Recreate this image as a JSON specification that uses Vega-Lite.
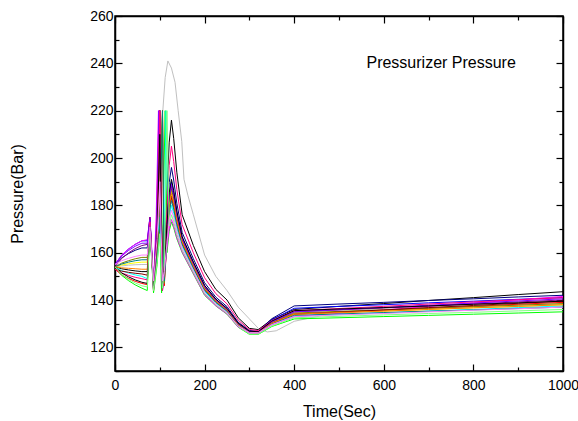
{
"$schema":"https://vega.github.io/schema/vega-lite/v6.json",
"width":448,"height":355,
"autosize":"none",
"padding":{"left":115,"top":16,"right":15,"bottom":50},
"config":{"view":{"stroke":"black","strokeWidth":1.5},"font":"Liberation Sans",
"axis":{"grid":false,"domainColor":"black","domainWidth":1.5,"tickColor":"black","tickWidth":1.2,"labelColor":"black","titleColor":"black","labelFontSize":14,"titleFontSize":16,"titleFontWeight":"normal","labelFont":"Liberation Sans","titleFont":"Liberation Sans","labelFlush":false,"labelOverlap":false,"format":"d"}},
"layer":[
{"data":{"values":[
{"s":"s17","t":0,"v":154},{"s":"s17","t":15,"v":154.4},{"s":"s17","t":30,"v":154.7},{"s":"s17","t":45,"v":154.9},{"s":"s17","t":60,"v":155},{"s":"s17","t":72,"v":155},{"s":"s17","t":78,"v":168},{"s":"s17","t":86,"v":150},{"s":"s17","t":94,"v":165},{"s":"s17","t":100,"v":200},{"s":"s17","t":106,"v":218},{"s":"s17","t":112,"v":234},{"s":"s17","t":118,"v":241},{"s":"s17","t":126,"v":238},{"s":"s17","t":134,"v":232},{"s":"s17","t":141,"v":220},{"s":"s17","t":149,"v":207},{"s":"s17","t":154,"v":191},{"s":"s17","t":163,"v":184},{"s":"s17","t":175,"v":176},{"s":"s17","t":200,"v":159},{"s":"s17","t":225,"v":150},{"s":"s17","t":250,"v":144},{"s":"s17","t":275,"v":137},{"s":"s17","t":300,"v":132},{"s":"s17","t":320,"v":128},{"s":"s17","t":340,"v":126.5},{"s":"s17","t":360,"v":127},{"s":"s17","t":400,"v":131},{"s":"s17","t":450,"v":133},{"s":"s17","t":500,"v":135},{"s":"s17","t":600,"v":136.5},{"s":"s17","t":700,"v":137},{"s":"s17","t":800,"v":137.5},{"s":"s17","t":900,"v":138},{"s":"s17","t":1000,"v":138},
{"s":"s01","t":0,"v":154},{"s":"s01","t":15,"v":153.2},{"s":"s01","t":30,"v":152.7},{"s":"s01","t":45,"v":152.3},{"s":"s01","t":60,"v":152},{"s":"s01","t":72,"v":152},{"s":"s01","t":78,"v":170},{"s":"s01","t":86,"v":146},{"s":"s01","t":94,"v":174},{"s":"s01","t":100,"v":220},{"s":"s01","t":106,"v":145},{"s":"s01","t":110,"v":152},{"s":"s01","t":116,"v":185},{"s":"s01","t":121,"v":206.7},{"s":"s01","t":126,"v":216},{"s":"s01","t":131,"v":208.3},{"s":"s01","t":138,"v":194},{"s":"s01","t":150,"v":176},{"s":"s01","t":175,"v":163},{"s":"s01","t":200,"v":152},{"s":"s01","t":225,"v":144.5},{"s":"s01","t":250,"v":140},{"s":"s01","t":275,"v":132.5},{"s":"s01","t":300,"v":128},{"s":"s01","t":320,"v":127.5},{"s":"s01","t":350,"v":131.8},{"s":"s01","t":400,"v":136},{"s":"s01","t":500,"v":137.3},{"s":"s01","t":600,"v":138.5},{"s":"s01","t":700,"v":139.8},{"s":"s01","t":800,"v":141},{"s":"s01","t":900,"v":142.3},{"s":"s01","t":1000,"v":143.5},
{"s":"s02","t":0,"v":153},{"s":"s02","t":15,"v":150.6},{"s":"s02","t":30,"v":149.1},{"s":"s02","t":45,"v":147.9},{"s":"s02","t":60,"v":147},{"s":"s02","t":72,"v":146.5},{"s":"s02","t":78,"v":174},{"s":"s02","t":86,"v":144},{"s":"s02","t":94,"v":160},{"s":"s02","t":100,"v":175},{"s":"s02","t":106,"v":220},{"s":"s02","t":110,"v":146},{"s":"s02","t":116,"v":165},{"s":"s02","t":121,"v":177.6},{"s":"s02","t":126,"v":183},{"s":"s02","t":131,"v":179.3},{"s":"s02","t":138,"v":172.4},{"s":"s02","t":150,"v":163.7},{"s":"s02","t":175,"v":153.8},{"s":"s02","t":200,"v":144.3},{"s":"s02","t":225,"v":139.1},{"s":"s02","t":250,"v":135.4},{"s":"s02","t":275,"v":129.4},{"s":"s02","t":300,"v":126.5},{"s":"s02","t":320,"v":126.3},{"s":"s02","t":350,"v":130.2},{"s":"s02","t":400,"v":134},{"s":"s02","t":500,"v":134.8},{"s":"s02","t":600,"v":135.7},{"s":"s02","t":700,"v":136.5},{"s":"s02","t":800,"v":137.3},{"s":"s02","t":900,"v":138.2},{"s":"s02","t":1000,"v":139},
{"s":"s03","t":0,"v":154},{"s":"s03","t":15,"v":150.4},{"s":"s03","t":30,"v":148.2},{"s":"s03","t":45,"v":146.4},{"s":"s03","t":60,"v":145},{"s":"s03","t":72,"v":144},{"s":"s03","t":78,"v":170},{"s":"s03","t":86,"v":143},{"s":"s03","t":94,"v":155},{"s":"s03","t":100,"v":170},{"s":"s03","t":104,"v":143},{"s":"s03","t":112,"v":220},{"s":"s03","t":116,"v":160},{"s":"s03","t":121,"v":169.1},{"s":"s03","t":126,"v":173},{"s":"s03","t":131,"v":170.5},{"s":"s03","t":138,"v":165.9},{"s":"s03","t":150,"v":160},{"s":"s03","t":175,"v":151},{"s":"s03","t":200,"v":142},{"s":"s03","t":225,"v":137.5},{"s":"s03","t":250,"v":134},{"s":"s03","t":275,"v":128.5},{"s":"s03","t":300,"v":125.5},{"s":"s03","t":320,"v":125.5},{"s":"s03","t":350,"v":128.8},{"s":"s03","t":400,"v":132},{"s":"s03","t":500,"v":132.5},{"s":"s03","t":600,"v":133},{"s":"s03","t":700,"v":133.5},{"s":"s03","t":800,"v":134},{"s":"s03","t":900,"v":134.5},{"s":"s03","t":1000,"v":135},
{"s":"s04","t":0,"v":155},{"s":"s04","t":15,"v":159},{"s":"s04","t":30,"v":161.5},{"s":"s04","t":45,"v":163.5},{"s":"s04","t":60,"v":165},{"s":"s04","t":72,"v":165},{"s":"s04","t":78,"v":175},{"s":"s04","t":86,"v":147},{"s":"s04","t":94,"v":175},{"s":"s04","t":100,"v":220},{"s":"s04","t":106,"v":147},{"s":"s04","t":110,"v":155},{"s":"s04","t":116,"v":172},{"s":"s04","t":121,"v":184.6},{"s":"s04","t":126,"v":190},{"s":"s04","t":131,"v":185.5},{"s":"s04","t":138,"v":177},{"s":"s04","t":150,"v":166.4},{"s":"s04","t":175,"v":155.8},{"s":"s04","t":200,"v":146},{"s":"s04","t":225,"v":140.3},{"s":"s04","t":250,"v":136.4},{"s":"s04","t":275,"v":130.1},{"s":"s04","t":300,"v":126.8},{"s":"s04","t":320,"v":126.6},{"s":"s04","t":350,"v":131.6},{"s":"s04","t":400,"v":136.5},{"s":"s04","t":500,"v":137.3},{"s":"s04","t":600,"v":138},{"s":"s04","t":700,"v":138.8},{"s":"s04","t":800,"v":139.5},{"s":"s04","t":900,"v":140.3},{"s":"s04","t":1000,"v":141},
{"s":"s05","t":0,"v":154},{"s":"s05","t":15,"v":152.4},{"s":"s05","t":30,"v":151.4},{"s":"s05","t":45,"v":150.6},{"s":"s05","t":60,"v":150},{"s":"s05","t":72,"v":149},{"s":"s05","t":78,"v":172},{"s":"s05","t":86,"v":145},{"s":"s05","t":94,"v":165},{"s":"s05","t":100,"v":175},{"s":"s05","t":106,"v":146},{"s":"s05","t":110,"v":165},{"s":"s05","t":114,"v":220},{"s":"s05","t":118,"v":170},{"s":"s05","t":121,"v":174.6},{"s":"s05","t":126,"v":180},{"s":"s05","t":131,"v":176.6},{"s":"s05","t":138,"v":170.4},{"s":"s05","t":150,"v":162.6},{"s":"s05","t":175,"v":152.9},{"s":"s05","t":200,"v":143.6},{"s":"s05","t":225,"v":138.6},{"s":"s05","t":250,"v":135},{"s":"s05","t":275,"v":129.1},{"s":"s05","t":300,"v":126.3},{"s":"s05","t":320,"v":126.2},{"s":"s05","t":350,"v":129.6},{"s":"s05","t":400,"v":133},{"s":"s05","t":500,"v":133.8},{"s":"s05","t":600,"v":134.5},{"s":"s05","t":700,"v":135.3},{"s":"s05","t":800,"v":136},{"s":"s05","t":900,"v":136.8},{"s":"s05","t":1000,"v":137.5},
{"s":"s06","t":0,"v":155},{"s":"s06","t":15,"v":159},{"s":"s06","t":30,"v":161.5},{"s":"s06","t":45,"v":163.5},{"s":"s06","t":60,"v":165},{"s":"s06","t":72,"v":165.5},{"s":"s06","t":78,"v":175},{"s":"s06","t":86,"v":146},{"s":"s06","t":92,"v":176},{"s":"s06","t":97,"v":220},{"s":"s06","t":106,"v":146},{"s":"s06","t":110,"v":150},{"s":"s06","t":116,"v":162},{"s":"s06","t":121,"v":170.4},{"s":"s06","t":126,"v":174},{"s":"s06","t":131,"v":171.4},{"s":"s06","t":138,"v":166.5},{"s":"s06","t":150,"v":160.3},{"s":"s06","t":175,"v":151.2},{"s":"s06","t":200,"v":142.2},{"s":"s06","t":225,"v":137.6},{"s":"s06","t":250,"v":134.1},{"s":"s06","t":275,"v":128.6},{"s":"s06","t":300,"v":126},{"s":"s06","t":320,"v":126},{"s":"s06","t":350,"v":129.5},{"s":"s06","t":400,"v":133},{"s":"s06","t":500,"v":134.4},{"s":"s06","t":600,"v":135.8},{"s":"s06","t":700,"v":137.3},{"s":"s06","t":800,"v":138.7},{"s":"s06","t":900,"v":140.1},{"s":"s06","t":1000,"v":141.5},
{"s":"s07","t":0,"v":154},{"s":"s07","t":15,"v":154.8},{"s":"s07","t":30,"v":155.3},{"s":"s07","t":45,"v":155.7},{"s":"s07","t":60,"v":156},{"s":"s07","t":72,"v":156},{"s":"s07","t":78,"v":170},{"s":"s07","t":86,"v":148},{"s":"s07","t":94,"v":168},{"s":"s07","t":100,"v":200},{"s":"s07","t":106,"v":150},{"s":"s07","t":110,"v":155},{"s":"s07","t":116,"v":170},{"s":"s07","t":121,"v":181.2},{"s":"s07","t":126,"v":186},{"s":"s07","t":131,"v":181.9},{"s":"s07","t":138,"v":174.3},{"s":"s07","t":150,"v":164.8},{"s":"s07","t":175,"v":154.6},{"s":"s07","t":200,"v":145},{"s":"s07","t":225,"v":139.6},{"s":"s07","t":250,"v":135.8},{"s":"s07","t":275,"v":129.7},{"s":"s07","t":300,"v":126.6},{"s":"s07","t":320,"v":126.5},{"s":"s07","t":350,"v":130.3},{"s":"s07","t":400,"v":134},{"s":"s07","t":500,"v":134.7},{"s":"s07","t":600,"v":135.3},{"s":"s07","t":700,"v":136},{"s":"s07","t":800,"v":136.7},{"s":"s07","t":900,"v":137.3},{"s":"s07","t":1000,"v":138},
{"s":"s08","t":0,"v":154},{"s":"s08","t":15,"v":155.6},{"s":"s08","t":30,"v":156.6},{"s":"s08","t":45,"v":157.4},{"s":"s08","t":60,"v":158},{"s":"s08","t":72,"v":158},{"s":"s08","t":78,"v":172},{"s":"s08","t":86,"v":146},{"s":"s08","t":94,"v":162},{"s":"s08","t":100,"v":172},{"s":"s08","t":106,"v":220},{"s":"s08","t":110,"v":147},{"s":"s08","t":116,"v":167},{"s":"s08","t":121,"v":181},{"s":"s08","t":126,"v":187},{"s":"s08","t":131,"v":182.8},{"s":"s08","t":138,"v":175.1},{"s":"s08","t":150,"v":165.3},{"s":"s08","t":175,"v":155},{"s":"s08","t":200,"v":145.3},{"s":"s08","t":225,"v":139.8},{"s":"s08","t":250,"v":136},{"s":"s08","t":275,"v":129.8},{"s":"s08","t":300,"v":126.7},{"s":"s08","t":320,"v":126.5},{"s":"s08","t":350,"v":130.5},{"s":"s08","t":400,"v":134.5},{"s":"s08","t":500,"v":135.2},{"s":"s08","t":600,"v":135.8},{"s":"s08","t":700,"v":136.5},{"s":"s08","t":800,"v":137.2},{"s":"s08","t":900,"v":137.8},{"s":"s08","t":1000,"v":138.5},
{"s":"s09","t":0,"v":155},{"s":"s09","t":15,"v":157.8},{"s":"s09","t":30,"v":159.6},{"s":"s09","t":45,"v":161},{"s":"s09","t":60,"v":162},{"s":"s09","t":72,"v":162},{"s":"s09","t":78,"v":174},{"s":"s09","t":86,"v":145},{"s":"s09","t":94,"v":173},{"s":"s09","t":100,"v":220},{"s":"s09","t":106,"v":144},{"s":"s09","t":110,"v":152},{"s":"s09","t":116,"v":175},{"s":"s09","t":121,"v":189.7},{"s":"s09","t":126,"v":196},{"s":"s09","t":131,"v":190.7},{"s":"s09","t":138,"v":180.9},{"s":"s09","t":150,"v":168.5},{"s":"s09","t":175,"v":157.4},{"s":"s09","t":200,"v":147.3},{"s":"s09","t":225,"v":141.2},{"s":"s09","t":250,"v":137.2},{"s":"s09","t":275,"v":130.6},{"s":"s09","t":300,"v":127.1},{"s":"s09","t":320,"v":126.8},{"s":"s09","t":350,"v":132.1},{"s":"s09","t":400,"v":137.5},{"s":"s09","t":500,"v":138.3},{"s":"s09","t":600,"v":139},{"s":"s09","t":700,"v":139.8},{"s":"s09","t":800,"v":140.5},{"s":"s09","t":900,"v":141.3},{"s":"s09","t":1000,"v":142},
{"s":"s10","t":0,"v":154},{"s":"s10","t":15,"v":157.6},{"s":"s10","t":30,"v":159.9},{"s":"s10","t":45,"v":161.7},{"s":"s10","t":60,"v":163},{"s":"s10","t":72,"v":163.5},{"s":"s10","t":78,"v":175},{"s":"s10","t":86,"v":144},{"s":"s10","t":94,"v":175},{"s":"s10","t":100,"v":220},{"s":"s10","t":106,"v":146},{"s":"s10","t":110,"v":152},{"s":"s10","t":116,"v":170},{"s":"s10","t":121,"v":182.6},{"s":"s10","t":126,"v":188},{"s":"s10","t":131,"v":183.7},{"s":"s10","t":138,"v":175.7},{"s":"s10","t":150,"v":165.6},{"s":"s10","t":175,"v":155.2},{"s":"s10","t":200,"v":145.5},{"s":"s10","t":225,"v":140},{"s":"s10","t":250,"v":136.1},{"s":"s10","t":275,"v":129.9},{"s":"s10","t":300,"v":126.7},{"s":"s10","t":320,"v":126.5},{"s":"s10","t":350,"v":130.8},{"s":"s10","t":400,"v":135},{"s":"s10","t":500,"v":135.8},{"s":"s10","t":600,"v":136.7},{"s":"s10","t":700,"v":137.5},{"s":"s10","t":800,"v":138.3},{"s":"s10","t":900,"v":139.2},{"s":"s10","t":1000,"v":140},
{"s":"s11","t":0,"v":153},{"s":"s11","t":15,"v":152.2},{"s":"s11","t":30,"v":151.7},{"s":"s11","t":45,"v":151.3},{"s":"s11","t":60,"v":151},{"s":"s11","t":72,"v":150.5},{"s":"s11","t":78,"v":170},{"s":"s11","t":86,"v":147},{"s":"s11","t":94,"v":165},{"s":"s11","t":100,"v":205},{"s":"s11","t":106,"v":148},{"s":"s11","t":110,"v":152},{"s":"s11","t":116,"v":168},{"s":"s11","t":121,"v":179.2},{"s":"s11","t":126,"v":184},{"s":"s11","t":131,"v":180.2},{"s":"s11","t":138,"v":173.1},{"s":"s11","t":150,"v":164.2},{"s":"s11","t":175,"v":154.1},{"s":"s11","t":200,"v":144.6},{"s":"s11","t":225,"v":139.3},{"s":"s11","t":250,"v":135.6},{"s":"s11","t":275,"v":129.5},{"s":"s11","t":300,"v":126.5},{"s":"s11","t":320,"v":126.4},{"s":"s11","t":350,"v":130.2},{"s":"s11","t":400,"v":134},{"s":"s11","t":500,"v":134.9},{"s":"s11","t":600,"v":135.8},{"s":"s11","t":700,"v":136.8},{"s":"s11","t":800,"v":137.7},{"s":"s11","t":900,"v":138.6},{"s":"s11","t":1000,"v":139.5},
{"s":"s12","t":0,"v":154},{"s":"s12","t":15,"v":155.2},{"s":"s12","t":30,"v":156},{"s":"s12","t":45,"v":156.6},{"s":"s12","t":60,"v":157},{"s":"s12","t":72,"v":157},{"s":"s12","t":78,"v":168},{"s":"s12","t":86,"v":149},{"s":"s12","t":94,"v":158},{"s":"s12","t":100,"v":170},{"s":"s12","t":106,"v":220},{"s":"s12","t":110,"v":148},{"s":"s12","t":116,"v":165},{"s":"s12","t":121,"v":176.9},{"s":"s12","t":126,"v":182},{"s":"s12","t":131,"v":178.4},{"s":"s12","t":138,"v":171.8},{"s":"s12","t":150,"v":163.4},{"s":"s12","t":175,"v":153.5},{"s":"s12","t":200,"v":144.1},{"s":"s12","t":225,"v":139},{"s":"s12","t":250,"v":135.3},{"s":"s12","t":275,"v":129.3},{"s":"s12","t":300,"v":126.4},{"s":"s12","t":320,"v":126.3},{"s":"s12","t":350,"v":129.9},{"s":"s12","t":400,"v":133.5},{"s":"s12","t":500,"v":134.1},{"s":"s12","t":600,"v":134.7},{"s":"s12","t":700,"v":135.3},{"s":"s12","t":800,"v":135.8},{"s":"s12","t":900,"v":136.4},{"s":"s12","t":1000,"v":137},
{"s":"s13","t":0,"v":154},{"s":"s13","t":15,"v":153.6},{"s":"s13","t":30,"v":153.4},{"s":"s13","t":45,"v":153.2},{"s":"s13","t":60,"v":153},{"s":"s13","t":72,"v":153},{"s":"s13","t":78,"v":172},{"s":"s13","t":86,"v":146},{"s":"s13","t":94,"v":170},{"s":"s13","t":100,"v":220},{"s":"s13","t":106,"v":147},{"s":"s13","t":110,"v":153},{"s":"s13","t":116,"v":169},{"s":"s13","t":121,"v":180.2},{"s":"s13","t":126,"v":185},{"s":"s13","t":131,"v":181},{"s":"s13","t":138,"v":173.7},{"s":"s13","t":150,"v":164.5},{"s":"s13","t":175,"v":154.4},{"s":"s13","t":200,"v":144.8},{"s":"s13","t":225,"v":139.5},{"s":"s13","t":250,"v":135.7},{"s":"s13","t":275,"v":129.6},{"s":"s13","t":300,"v":126.6},{"s":"s13","t":320,"v":126.4},{"s":"s13","t":350,"v":130.2},{"s":"s13","t":400,"v":134},{"s":"s13","t":500,"v":134.7},{"s":"s13","t":600,"v":135.3},{"s":"s13","t":700,"v":136},{"s":"s13","t":800,"v":136.7},{"s":"s13","t":900,"v":137.3},{"s":"s13","t":1000,"v":138},
{"s":"s14","t":0,"v":155},{"s":"s14","t":15,"v":158.6},{"s":"s14","t":30,"v":160.9},{"s":"s14","t":45,"v":162.7},{"s":"s14","t":60,"v":164},{"s":"s14","t":72,"v":164},{"s":"s14","t":78,"v":174},{"s":"s14","t":86,"v":145},{"s":"s14","t":93,"v":174},{"s":"s14","t":98,"v":220},{"s":"s14","t":106,"v":145},{"s":"s14","t":110,"v":153},{"s":"s14","t":116,"v":171},{"s":"s14","t":121,"v":183.6},{"s":"s14","t":126,"v":189},{"s":"s14","t":131,"v":184.6},{"s":"s14","t":138,"v":176.3},{"s":"s14","t":150,"v":165.9},{"s":"s14","t":175,"v":155.4},{"s":"s14","t":200,"v":145.7},{"s":"s14","t":225,"v":140.1},{"s":"s14","t":250,"v":136.2},{"s":"s14","t":275,"v":130},{"s":"s14","t":300,"v":126.7},{"s":"s14","t":320,"v":126.6},{"s":"s14","t":350,"v":130.8},{"s":"s14","t":400,"v":135},{"s":"s14","t":500,"v":135.9},{"s":"s14","t":600,"v":136.8},{"s":"s14","t":700,"v":137.8},{"s":"s14","t":800,"v":138.7},{"s":"s14","t":900,"v":139.6},{"s":"s14","t":1000,"v":140.5},
{"s":"s15","t":0,"v":153},{"s":"s15","t":15,"v":151.4},{"s":"s15","t":30,"v":150.4},{"s":"s15","t":45,"v":149.6},{"s":"s15","t":60,"v":149},{"s":"s15","t":72,"v":148.5},{"s":"s15","t":78,"v":173},{"s":"s15","t":86,"v":144},{"s":"s15","t":94,"v":172},{"s":"s15","t":100,"v":220},{"s":"s15","t":106,"v":144},{"s":"s15","t":110,"v":152},{"s":"s15","t":116,"v":178},{"s":"s15","t":121,"v":196.9},{"s":"s15","t":126,"v":205},{"s":"s15","t":131,"v":198.6},{"s":"s15","t":138,"v":186.7},{"s":"s15","t":150,"v":171.8},{"s":"s15","t":175,"v":159.9},{"s":"s15","t":200,"v":149.4},{"s":"s15","t":225,"v":142.7},{"s":"s15","t":250,"v":138.4},{"s":"s15","t":275,"v":131.5},{"s":"s15","t":300,"v":127.5},{"s":"s15","t":320,"v":127.1},{"s":"s15","t":350,"v":131.3},{"s":"s15","t":400,"v":135.5},{"s":"s15","t":500,"v":136.4},{"s":"s15","t":600,"v":137.3},{"s":"s15","t":700,"v":138.3},{"s":"s15","t":800,"v":139.2},{"s":"s15","t":900,"v":140.1},{"s":"s15","t":1000,"v":141},
{"s":"s16","t":0,"v":154},{"s":"s16","t":15,"v":151.4},{"s":"s16","t":30,"v":149.8},{"s":"s16","t":45,"v":148.5},{"s":"s16","t":60,"v":147.5},{"s":"s16","t":72,"v":147},{"s":"s16","t":78,"v":171},{"s":"s16","t":86,"v":146},{"s":"s16","t":94,"v":168},{"s":"s16","t":100,"v":210},{"s":"s16","t":106,"v":147},{"s":"s16","t":110,"v":153},{"s":"s16","t":116,"v":172},{"s":"s16","t":121,"v":185.3},{"s":"s16","t":126,"v":191},{"s":"s16","t":131,"v":186.3},{"s":"s16","t":138,"v":177.6},{"s":"s16","t":150,"v":166.7},{"s":"s16","t":175,"v":156},{"s":"s16","t":200,"v":146.2},{"s":"s16","t":225,"v":140.4},{"s":"s16","t":250,"v":136.5},{"s":"s16","t":275,"v":130.2},{"s":"s16","t":300,"v":126.8},{"s":"s16","t":320,"v":126.6},{"s":"s16","t":350,"v":131.1},{"s":"s16","t":400,"v":135.5},{"s":"s16","t":500,"v":136.2},{"s":"s16","t":600,"v":136.8},{"s":"s16","t":700,"v":137.5},{"s":"s16","t":800,"v":138.2},{"s":"s16","t":900,"v":138.8},{"s":"s16","t":1000,"v":139.5},
{"s":"s18","t":0,"v":154},{"s":"s18","t":15,"v":150.8},{"s":"s18","t":30,"v":148.8},{"s":"s18","t":45,"v":147.2},{"s":"s18","t":60,"v":146},{"s":"s18","t":72,"v":145.5},{"s":"s18","t":78,"v":169},{"s":"s18","t":86,"v":144},{"s":"s18","t":94,"v":156},{"s":"s18","t":100,"v":168},{"s":"s18","t":106,"v":145},{"s":"s18","t":110,"v":152},{"s":"s18","t":116,"v":220},{"s":"s18","t":121,"v":171.2},{"s":"s18","t":126,"v":176},{"s":"s18","t":131,"v":173.1},{"s":"s18","t":138,"v":167.8},{"s":"s18","t":150,"v":161.1},{"s":"s18","t":175,"v":151.8},{"s":"s18","t":200,"v":142.7},{"s":"s18","t":225,"v":138},{"s":"s18","t":250,"v":134.4},{"s":"s18","t":275,"v":128.8},{"s":"s18","t":300,"v":125.6},{"s":"s18","t":320,"v":125.6},{"s":"s18","t":350,"v":129},{"s":"s18","t":400,"v":132.5},{"s":"s18","t":500,"v":133.1},{"s":"s18","t":600,"v":133.7},{"s":"s18","t":700,"v":134.3},{"s":"s18","t":800,"v":134.8},{"s":"s18","t":900,"v":135.4},{"s":"s18","t":1000,"v":136},
{"s":"s19","t":0,"v":155},{"s":"s19","t":15,"v":156.6},{"s":"s19","t":30,"v":157.6},{"s":"s19","t":45,"v":158.4},{"s":"s19","t":60,"v":159},{"s":"s19","t":72,"v":159},{"s":"s19","t":78,"v":171},{"s":"s19","t":86,"v":148},{"s":"s19","t":94,"v":166},{"s":"s19","t":100,"v":190},{"s":"s19","t":106,"v":148},{"s":"s19","t":110,"v":152},{"s":"s19","t":116,"v":164},{"s":"s19","t":121,"v":173.8},{"s":"s19","t":126,"v":178},{"s":"s19","t":131,"v":174.9},{"s":"s19","t":138,"v":169.1},{"s":"s19","t":150,"v":161.9},{"s":"s19","t":175,"v":152.4},{"s":"s19","t":200,"v":143.2},{"s":"s19","t":225,"v":138.3},{"s":"s19","t":250,"v":134.7},{"s":"s19","t":275,"v":129},{"s":"s19","t":300,"v":126.2},{"s":"s19","t":320,"v":126.2},{"s":"s19","t":350,"v":129.6},{"s":"s19","t":400,"v":133},{"s":"s19","t":500,"v":133.7},{"s":"s19","t":600,"v":134.3},{"s":"s19","t":700,"v":135},{"s":"s19","t":800,"v":135.7},{"s":"s19","t":900,"v":136.3},{"s":"s19","t":1000,"v":137}
]},
"mark":{"type":"line","strokeWidth":1,"clip":true},
"encoding":{
"x":{"field":"t","type":"quantitative","scale":{"domain":[0,1000],"nice":false,"zero":false},
"axis":{"orient":"bottom","title":"Time(Sec)","values":[0,100,200,300,400,500,600,700,800,900,1000],"labelExpr":"datum.value % 200 === 0 ? datum.label : ''","tickSize":{"condition":{"test":"datum.value % 200 === 0","value":-7},"value":-4},"labelPadding":14,"titlePadding":8}},
"y":{"field":"v","type":"quantitative","scale":{"domain":[110,260],"nice":false,"zero":false},
"axis":{"orient":"left","title":"Pressure(Bar)","values":[110,120,130,140,150,160,170,180,190,200,210,220,230,240,250,260],"labelExpr":"datum.value % 20 === 0 ? datum.label : ''","tickSize":{"condition":{"test":"datum.value % 20 === 0","value":-7},"value":-4},"labelPadding":9,"titlePadding":64}},
"color":{"field":"s","type":"nominal","legend":null,"sort":null,
"scale":{"domain":["s17","s01","s02","s03","s04","s05","s06","s07","s08","s09","s10","s11","s12","s13","s14","s15","s16","s18","s19"],
"range":["#C0C0C0","#000000","#FF0000","#00FF00","#0000FF","#00FFFF","#FF00FF","#FFFF00","#808000","#000080","#800080","#800000","#008080","#FF8000","#8000FF","#FF0080","#000000","#80FF80","#FF80FF"]}}}},
{"data":{"values":[{"t":728,"v":240,"label":"Pressurizer Pressure"}]},
"mark":{"type":"text","fontSize":16,"font":"Liberation Sans","color":"black"},
"encoding":{
"x":{"field":"t","type":"quantitative","axis":{"orient":"top","title":null,"values":[0,100,200,300,400,500,600,700,800,900,1000],"labels":false,"tickSize":{"condition":{"test":"datum.value % 200 === 0","value":-7},"value":-4}}},
"y":{"field":"v","type":"quantitative","axis":{"orient":"right","title":null,"values":[110,120,130,140,150,160,170,180,190,200,210,220,230,240,250,260],"labels":false,"tickSize":{"condition":{"test":"datum.value % 20 === 0","value":-7},"value":-4}}},
"text":{"field":"label"}}}
],
"resolve":{"scale":{"x":"shared","y":"shared"},"axis":{"x":"independent","y":"independent"}}
}
